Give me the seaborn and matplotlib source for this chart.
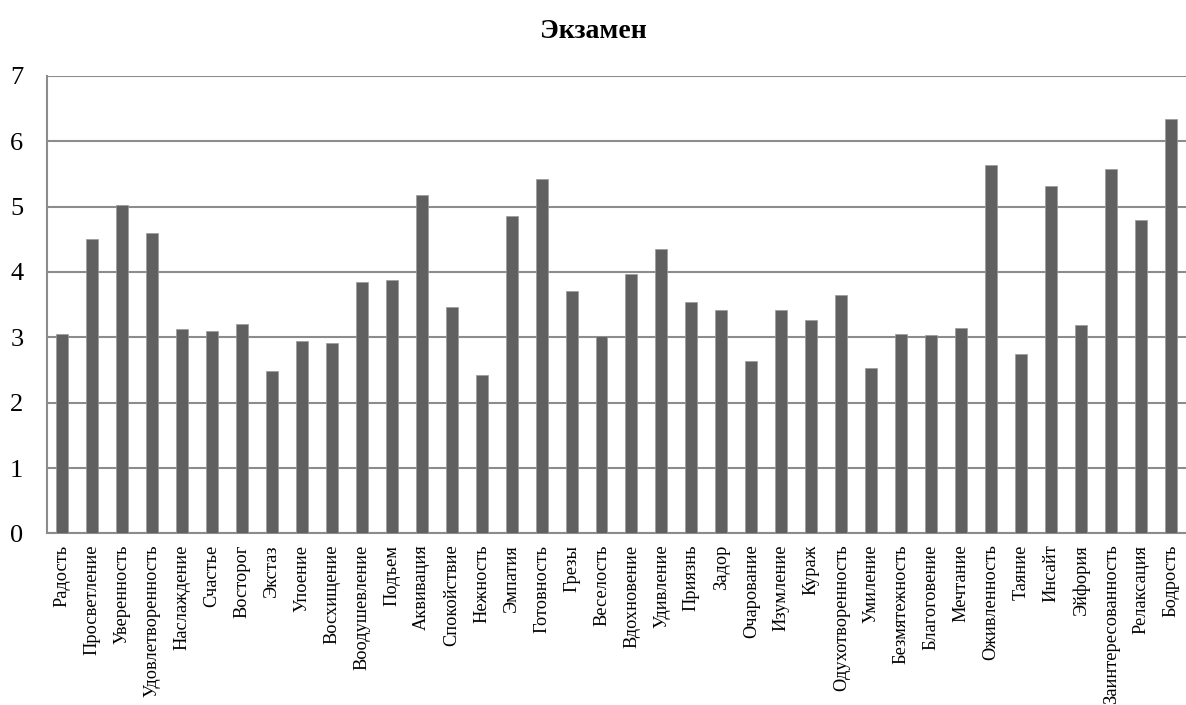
import matplotlib
matplotlib.use("Agg")
import matplotlib.pyplot as plt
import seaborn as sns
import pandas as pd
import numpy as np
from matplotlib.ticker import FixedLocator

categories = ["Радость", "Просветление", "Уверенность", "Удовлетворенность", "Наслаждение",
              "Счастье", "Восторог", "Экстаз", "Упоение", "Восхищение", "Воодушевление",
              "Подъем", "Аквивация", "Спокойствие", "Нежность", "Эмпатия", "Готовность",
              "Грезы", "Веселость", "Вдохновение", "Удивление", "Приязнь", "Задор",
              "Очарование", "Изумление", "Кураж", "Одухотворенность", "Умиление",
              "Безмятежность", "Благоговение", "Мечтание", "Оживленность", "Таяние",
              "Инсайт", "Эйфория", "Заинтересованность", "Релаксация", "Бодрость"]
values = [3.05, 4.50, 5.03, 4.59, 3.12, 3.09, 3.21, 2.48, 2.94, 2.92, 3.85,
          3.88, 5.17, 3.47, 2.43, 4.86, 5.42, 3.71, 3.02, 3.97, 4.35, 3.54, 3.41,
          2.64, 3.41, 3.26, 3.64, 2.53, 3.05, 3.03, 3.14, 5.63, 2.75, 5.31, 3.19,
          5.58, 4.79, 6.34]
title = "Экзамен"
yticks = [0, 1, 2, 3, 4, 5, 6, 7]

sns.set_style("white")
plt.rcParams['font.family'] = ['Liberation Serif', 'DejaVu Serif']
plt.rcParams['text.color'] = 'black'
plt.rcParams['xtick.labelcolor'] = 'black'
plt.rcParams['ytick.labelcolor'] = 'black'

df = pd.DataFrame({"cat": categories, "val": values})

fig = plt.figure(figsize=(11.86, 7.05), dpi=100)
ax = fig.add_axes([0.0396, 0.2433, 0.9604, 0.6493])

sns.barplot(data=df, x="cat", y="val", color="#606060", width=0.4,
            saturation=1, edgecolor="#9a9a9a", linewidth=0.5, ax=ax, zorder=3)

grid_c = "#8c8c8c"
ax.set_ylim(0, 7)
ax.set_xlim(-0.5, len(categories) - 0.5)
ax.set_yticks(yticks)
ax.set_yticklabels([str(t) for t in yticks], fontsize=19, color='black')
ax.yaxis.grid(True, color=grid_c, linewidth=1.5, zorder=0)
ax.set_axisbelow(True)

ax.set_xticks(range(len(categories)))
ax.set_xticklabels(categories, rotation=90, fontsize=13.2, color='black')
ax.tick_params(axis='x', which='major', length=0, pad=8)
ax.xaxis.set_minor_locator(FixedLocator(np.arange(-0.5, len(categories), 1.0)))
ax.tick_params(axis='x', which='minor', length=5, width=1.5, color=grid_c, direction='out')
ax.tick_params(axis='y', length=6, width=1.5, color=grid_c, direction='out', pad=11)

for s in ["top", "right"]:
    ax.spines[s].set_visible(False)
for s in ["left", "bottom"]:
    ax.spines[s].set_color(grid_c)
    ax.spines[s].set_linewidth(1.5)

ax.set_xlabel("")
ax.set_ylabel("")
fig.text(0.5, 0.955, title, ha="center", va="center", fontsize=20,
         fontweight="bold", color="black")

fig.savefig("out.png", dpi=100, facecolor="white")
